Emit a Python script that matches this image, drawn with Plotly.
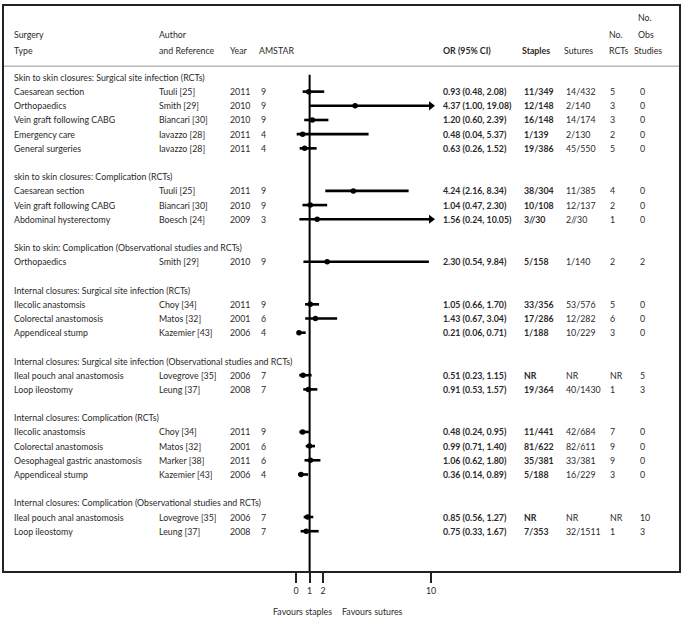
import plotly.graph_objects as go

# ---------------- data ----------------
group_titles = [
    "Skin to skin closures: Surgical site infection (RCTs)",
    "skin to skin closures: Complication (RCTs)",
    "Skin to skin: Complication (Observational studies and RCTs)",
    "Internal closures: Surgical site infection (RCTs)",
    "Internal closures: Surgical site infection (Observational studies and RCTs)",
    "Internal closures: Complication (RCTs)",
    "Internal closures: Complication (Observational studies and RCTs)",
]
group_sizes = [5, 3, 1, 3, 2, 4, 2]

surgery = [
    "Caesarean section", "Orthopaedics", "Vein graft following CABG", "Emergency care", "General surgeries",
    "Caesarean section", "Vein graft following CABG", "Abdominal hysterectomy",
    "Orthopaedics",
    "Ilecolic anastomsis", "Colorectal anastomosis", "Appendiceal stump",
    "Ileal pouch anal anastomosis", "Loop ileostomy",
    "Ilecolic anastomsis", "Colorectal anastomosis", "Oesophageal gastric anastomosis", "Appendiceal stump",
    "Ileal pouch anal anastomosis", "Loop ileostomy",
]
author = [
    "Tuuli [25]", "Smith [29]", "Biancari [30]", "Iavazzo [28]", "Iavazzo [28]",
    "Tuuli [25]", "Biancari [30]", "Boesch [24]",
    "Smith [29]",
    "Choy [34]", "Matos [32]", "Kazemier [43]",
    "Lovegrove [35]", "Leung [37]",
    "Choy [34]", "Matos [32]", "Marker [38]", "Kazemier [43]",
    "Lovegrove [35]", "Leung [37]",
]
year = ["2011", "2010", "2010", "2011", "2011",
        "2011", "2010", "2009",
        "2010",
        "2011", "2001", "2006",
        "2006", "2008",
        "2011", "2001", "2011", "2006",
        "2006", "2008"]
amstar = ["9", "9", "9", "4", "4",
          "9", "9", "3",
          "9",
          "9", "6", "4",
          "7", "7",
          "9", "6", "6", "4",
          "7", "7"]
odds_ratio = [0.93, 4.37, 1.20, 0.48, 0.63,
              4.24, 1.04, 1.56,
              2.30,
              1.05, 1.43, 0.21,
              0.51, 0.91,
              0.48, 0.99, 1.06, 0.36,
              0.85, 0.75]
ci_low = [0.48, 1.00, 0.60, 0.04, 0.26,
          2.16, 0.47, 0.24,
          0.54,
          0.66, 0.67, 0.06,
          0.23, 0.53,
          0.24, 0.71, 0.62, 0.14,
          0.56, 0.33]
ci_high = [2.08, 19.08, 2.39, 5.37, 1.52,
           8.34, 2.30, 10.05,
           9.84,
           1.70, 3.04, 0.71,
           1.15, 1.57,
           0.95, 1.40, 1.80, 0.89,
           1.27, 1.67]
staples = ["11/349", "12/148", "16/148", "1/139", "19/386",
           "38/304", "10/108", "3//30",
           "5/158",
           "33/356", "17/286", "1/188",
           "NR", "19/364",
           "11/441", "81/622", "35/381", "5/188",
           "NR", "7/353"]
sutures = ["14/432", "2/140", "14/174", "2/130", "45/550",
           "11/385", "12/137", "2//30",
           "1/140",
           "53/576", "12/282", "10/229",
           "NR", "40/1430",
           "42/684", "82/611", "33/381", "16/229",
           "NR", "32/1511"]
n_rcts = ["5", "3", "3", "2", "5",
          "4", "2", "1",
          "2",
          "5", "6", "3",
          "NR", "1",
          "7", "9", "9", "3",
          "NR", "1"]
n_obs = ["0", "0", "0", "0", "0",
         "0", "0", "0",
         "2",
         "0", "0", "0",
         "5", "3",
         "0", "0", "0", "0",
         "10", "3"]
tick_values = [0, 1, 2, 10]
tick_labels = ["0", "1", "2", "10"]
x_cap = 10  # CIs beyond this value are drawn with an arrow

# ---------------- layout geometry ----------------
W, H = 685, 619
BOX_L, BOX_R, BOX_T, BOX_B = 4, 681, 4, 571
X0_PX, PX_PER_UNIT = 297.0, 13.53
ROW0, STEP = 75.7, 14.23
FONT = "Lato, 'Liberation Sans', sans-serif"
FS = 8.8
TXT = "#2a2a2a"


def px(xpx):
    return (xpx - BOX_L) / (BOX_R - BOX_L)


def py_paper(ypx):
    return (BOX_B - ypx) / (BOX_B - BOX_T)


# row positions
title_y, study_y = [], []
k = 0
for g, n in enumerate(group_sizes):
    title_y.append(ROW0 + k * STEP)
    k += 1
    for _ in range(n):
        study_y.append(ROW0 + k * STEP)
        k += 1
    k += 1

ann = []


def add(text, xpx, y, bold=False, yref="y"):
    ann.append(dict(
        text=f"<b>{text}</b>" if bold else text,
        x=px(xpx), xref="paper", y=y, yref=yref,
        xanchor="left", yanchor="middle", showarrow=False,
        font=dict(family=FONT, size=FS, color=TXT),
    ))


# header
add("No.", 638, 16)
add("Surgery", 12, 32.5)
add("Author", 157, 32.5)
add("No.", 609, 32.5)
add("Obs", 638, 32.5)
add("Type", 12, 48.5)
add("and Reference", 157, 48.5)
add("Year", 229, 48.5)
add("AMSTAR", 258, 48.5)
add("OR (95% CI)", 442, 48.5, bold=True)
add("Staples", 522, 48.5, bold=True)
add("Sutures", 564, 48.5)
add("RCTs", 609, 48.5)
add("Studies", 634, 48.5)

for t, y in zip(group_titles, title_y):
    add(t, 12, y)

for i, y in enumerate(study_y):
    add(surgery[i], 12, y)
    add(author[i], 157, y)
    add(year[i], 229, y)
    add(amstar[i], 260, y)
    add(f"{odds_ratio[i]:.2f} ({ci_low[i]:.2f}, {ci_high[i]:.2f})", 442, y, bold=True)
    add(staples[i], 524, y, bold=True)
    add(sutures[i], 566, y)
    add(n_rcts[i], 610, y)
    add(n_obs[i], 640, y)

# bottom labels
add("Favours staples", 272, py_paper(612), yref="paper")
add("Favours sutures", 341, py_paper(612), yref="paper")

# ---------------- traces ----------------
lx, ly = [], []
for lo, hi, y in zip(ci_low, ci_high, study_y):
    lx += [lo, min(hi, x_cap), None]
    ly += [y, y, None]

arrow_x = [x_cap for hi in ci_high if hi > x_cap]
arrow_y = [y for hi, y in zip(ci_high, study_y) if hi > x_cap]

fig = go.Figure()
fig.add_trace(go.Scatter(x=lx, y=ly, mode="lines",
                         line=dict(color="black", width=2.6),
                         hoverinfo="skip", showlegend=False))
fig.add_trace(go.Scatter(x=odds_ratio, y=study_y, mode="markers",
                         marker=dict(color="black", size=5.5, symbol="circle"),
                         showlegend=False))
fig.add_trace(go.Scatter(x=arrow_x, y=arrow_y, mode="markers",
                         marker=dict(color="black", size=8, symbol="triangle-right"),
                         showlegend=False))

xr = [(BOX_L - X0_PX) / PX_PER_UNIT, (BOX_R - X0_PX) / PX_PER_UNIT]

shapes = [
    # header separator
    dict(type="line", xref="paper", yref="y", x0=0, x1=1, y0=64.5, y1=64.5,
         line=dict(color="#b8b8b8", width=1.5)),
    # line of no effect
    dict(type="line", xref="x", yref="y", x0=1, x1=1, y0=73, y1=BOX_B,
         line=dict(color="black", width=2)),
]

fig.update_layout(
    width=W, height=H,
    margin=dict(l=BOX_L, r=W - BOX_R, t=BOX_T, b=H - BOX_B),
    paper_bgcolor="white", plot_bgcolor="white",
    xaxis=dict(range=xr, showgrid=False, zeroline=False,
               showline=True, mirror=True, linecolor="#222", linewidth=2,
               ticks="outside", ticklen=10, tickwidth=2, tickcolor="#222",
               tickvals=tick_values, ticktext=tick_labels,
               tickfont=dict(family=FONT, size=FS, color=TXT)),
    yaxis=dict(range=[BOX_B, BOX_T], showgrid=False, zeroline=False,
               showline=True, mirror=True, linecolor="#222", linewidth=2,
               showticklabels=False, ticks=""),
    annotations=ann,
    shapes=shapes,
    showlegend=False,
)

fig.write_html("out.html",
               config={"displayModeBar": False},
               post_script="document.body.style.margin='0';document.body.style.padding='0';")
